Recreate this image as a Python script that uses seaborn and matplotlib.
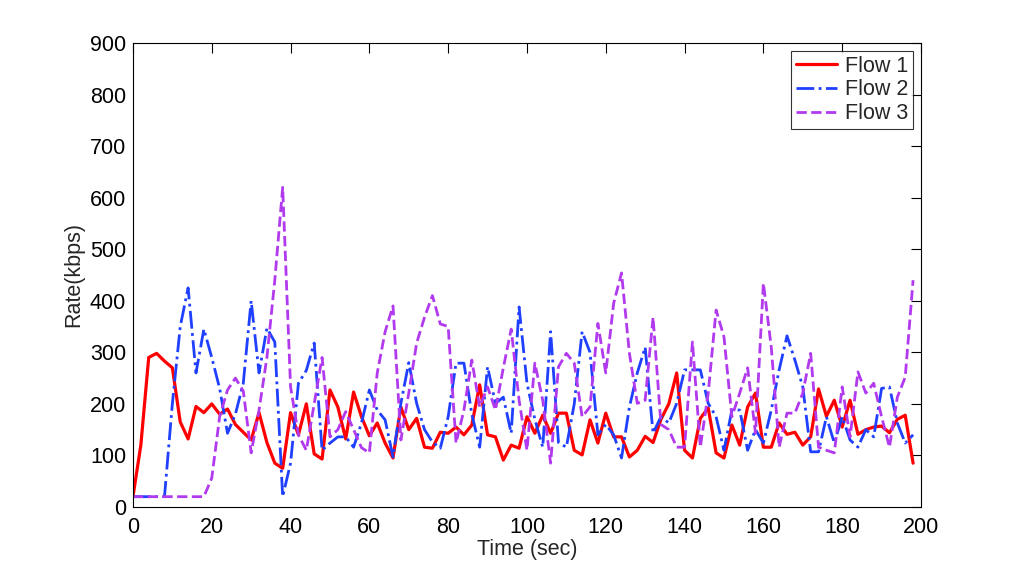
import numpy as np
import pandas as pd
import matplotlib
matplotlib.use("Agg")
import matplotlib.pyplot as plt
import seaborn as sns

# time axis: one sample every 2 s
time = list(range(0, 200, 2))

flow1 = [20, 120, 290, 298, 283, 270, 165, 132, 195, 183,
         200, 180, 190, 160, 145, 130, 183, 125, 85, 75,
         183, 140, 200, 103, 93, 227, 194, 132, 223, 175,
         138, 163, 124, 95, 194, 150, 172, 116, 114, 145,
         143, 155, 140, 159, 237, 140, 136, 91, 120, 114,
         175, 143, 178, 143, 182, 182, 110, 101, 169, 124,
         182, 136, 136, 97, 110, 137, 125, 170, 200, 260,
         110, 95, 172, 192, 105, 95, 159, 120, 194, 221,
         116, 116, 163, 141, 145, 120, 136, 229, 176, 207,
         155, 207, 141, 150, 155, 157, 144, 170, 178, 85]

flow2 = [20, 20, 20, 20, 20, 200, 350, 425, 260, 345,
         290, 230, 143, 180, 240, 400, 260, 347, 320, 20,
         85, 240, 265, 318, 110, 124, 136, 136, 116, 163,
         227, 188, 169, 97, 201, 280, 201, 150, 126, 114,
         175, 279, 279, 180, 116, 272, 201, 213, 143, 388,
         240, 170, 116, 340, 125, 116, 200, 340, 300, 140,
         160, 140, 95, 194, 260, 310, 143, 175, 163, 201,
         266, 266, 266, 201, 175, 110, 188, 188, 110, 150,
         124, 188, 266, 332, 285, 233, 107, 107, 175, 124,
         175, 130, 116, 150, 136, 230, 233, 163, 124, 140]

flow3 = [20, 20, 20, 20, 20, 20, 20, 20, 20, 20,
         56, 175, 227, 250, 225, 105, 188, 290, 440, 620,
         233, 140, 110, 200, 290, 136, 150, 185, 150, 115,
         105, 260, 340, 390, 130, 221, 318, 368, 410, 355,
         350, 124, 188, 285, 194, 233, 188, 270, 345, 207,
         110, 279, 207, 85, 272, 298, 279, 175, 194, 356,
         260, 395, 454, 298, 201, 207, 368, 160, 150, 116,
         116, 320, 116, 221, 382, 330, 175, 221, 270, 143,
         434, 310, 116, 182, 182, 221, 298, 116, 110, 105,
         233, 136, 262, 221, 240, 175, 116, 213, 252, 440]

series_names = ["Flow 1", "Flow 2", "Flow 3"]
df = pd.DataFrame({
    "Time (sec)": time * 3,
    "Rate(kbps)": flow1 + flow2 + flow3,
    "Flow": [n for n in series_names for _ in time],
})

sns.set_theme(style="white")
plt.rcParams["font.family"] = ["Liberation Sans", "DejaVu Sans"]

fig = plt.figure(figsize=(10.18, 5.71), dpi=100)
ax = fig.add_axes([0.1306, 0.1121, 0.7741, 0.8126])

palette = {"Flow 1": "#ff0000", "Flow 2": "#1f40ff", "Flow 3": "#b23aee"}
styles = {"Flow 1": "-", "Flow 2": "-.", "Flow 3": "--"}
widths = {"Flow 1": 2.3, "Flow 2": 2.0, "Flow 3": 2.0}
for name in series_names:
    sub = df[df["Flow"] == name]
    sns.lineplot(data=sub, x="Time (sec)", y="Rate(kbps)", ax=ax,
                 color=palette[name], linestyle=styles[name],
                 linewidth=widths[name], label=name)

ax.set_xlim(0, 200)
ax.set_ylim(0, 900)
ax.set_xticks(range(0, 201, 20))
ax.set_yticks(range(0, 901, 100))
ax.tick_params(direction="in", top=True, right=True, length=7,
               width=0.8, labelsize=15.5, colors="black")
ax.tick_params(axis="x", pad=7)
ax.tick_params(axis="y", pad=5)
for sp in ax.spines.values():
    sp.set_color("black")
    sp.set_linewidth(0.8)
ax.set_xlabel("Time (sec)", fontsize=15.5, labelpad=1)
ax.set_ylabel("Rate(kbps)", fontsize=15.5, labelpad=4)

leg = ax.legend(loc="upper right", fontsize=15.5, frameon=True, fancybox=False,
                handlelength=1.9, borderpad=0.25, labelspacing=0.12,
                handletextpad=0.35, borderaxespad=0.35)
leg.get_frame().set_edgecolor("black")
leg.get_frame().set_linewidth(0.8)

fig.savefig("out.png", dpi=100, facecolor="white")
